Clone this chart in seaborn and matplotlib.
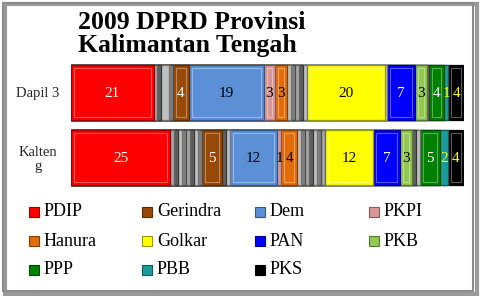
import numpy as np
import pandas as pd
import matplotlib
matplotlib.use("Agg")
import matplotlib.pyplot as plt
import matplotlib.colors as mcolors
from matplotlib.patches import Rectangle
import seaborn as sns

# ---------------- data ----------------
regions = ["Dapil 3", "Kalteng"]
region_labels = ["Dapil 3", "Kalten\ng"]

segments = ["PDIP", "o1", "o2", "o3", "o4", "o5", "o6", "o7", "o8",
            "Gerindra", "o9", "o10", "Dem", "PKPI", "Hanura",
            "o11", "o12", "o13", "o14", "o15", "o16", "o17",
            "Golkar", "o18", "PAN", "PKB", "o19", "o20", "PPP", "PBB", "PKS"]

dapil3 = [21, 1, 1, 2, 1, 0, 0, 0, 0,
          4, 0, 0, 19, 3, 3,
          1, 1, 1, 1, 1, 0, 0,
          20, 0.5, 7, 3, 0.5, 0, 4, 1, 4]
kalteng = [25, 1, 1, 1, 1, 1, 1, 1, 1,
           5, 1, 1, 12, 1, 4,
           1, 1, 1, 1, 1, 1, 1,
           12, 0, 7, 3, 1, 1, 5, 2, 4]

legend_parties = ["PDIP", "Gerindra", "Dem", "PKPI", "Hanura", "Golkar",
                  "PAN", "PKB", "PPP", "PBB", "PKS"]
party_colors = ["#ff0000", "#984807", "#5b8fd6", "#d99694", "#e36c09", "#ffff00",
                "#0000ff", "#92c850", "#008000", "#1a9a9a", "#000000"]
label_colors = ["white", "white", "black", "black", "black", "black",
                "white", "black", "white", "#ffff00", "#ffff00"]
gray_shades = ["#7f7f7f", "#a6a6a6", "#5f5f5f", "#bfbfbf"]

title = "2009 DPRD Provinsi\nKalimantan Tengah"

# ---------------- build table ----------------
rows = []
for reg, vals in zip(regions, [dapil3, kalteng]):
    tot = sum(vals)
    cum = 0.0
    for i, (seg, v) in enumerate(zip(segments, vals)):
        cum += v
        rows.append(dict(region=reg, segment=seg, value=v, idx=i,
                         cum=cum / tot * 100, share=v / tot * 100))
df = pd.DataFrame(rows)

def seg_color(seg, i):
    if seg in legend_parties:
        return party_colors[legend_parties.index(seg)]
    return gray_shades[i % len(gray_shades)]

def shade(col, f):
    c = np.array(mcolors.to_rgb(col))
    if f < 1:
        return tuple(c * f)
    return tuple(c + (1 - c) * (f - 1))

# ---------------- figure ----------------
sns.set_theme(style="white")
plt.rcParams["font.family"] = ["Liberation Serif", "DejaVu Serif"]

fig = plt.figure(figsize=(4.8, 2.96), dpi=100)
fig.patch.set_facecolor("white")
ax = fig.add_axes([71 / 480, 1 - 190 / 296, (464 - 71) / 480, 130 / 296])

BAR_W = 0.84
# stacked bars: draw cumulative totals from the right-most segment to the left
for i in reversed(range(len(segments))):
    seg = segments[i]
    sub = df[(df.idx == i) & (df.value > 0)]
    if sub.empty:
        continue
    col = seg_color(seg, i)
    sns.barplot(data=sub, x="cum", y="region", order=regions, color=col,
                orient="h", width=BAR_W, ax=ax, edgecolor=shade(col, 0.6),
                linewidth=0.9, saturation=1, errorbar=None)

# bevel highlight inside each visible segment
px_x = 100 / (464 - 71)          # data units per pixel (x)
px_y = 2.0 / 130                 # data units per pixel (y)
for _, r in df[df.value > 0].iterrows():
    w = r.share
    if w / px_x < 8:
        continue
    col = seg_color(r.segment, r.idx)
    y = regions.index(r.region)
    ins_x, ins_y = 3 * px_x, 3 * px_y
    ax.add_patch(Rectangle((r.cum - w + ins_x, y - BAR_W / 2 + ins_y),
                           w - 2 * ins_x, BAR_W - 2 * ins_y,
                           facecolor="none", edgecolor=shade(col, 1.35),
                           linewidth=0.8, zorder=3))

# value labels
for _, r in df[df.segment.isin(legend_parties) & (df.value > 0)].iterrows():
    k = legend_parties.index(r.segment)
    y = regions.index(r.region)
    ax.text(r.cum - r.share / 2, y + 0.02, f"{r.value:g}", ha="center",
            va="center", fontsize=11, color=label_colors[k], zorder=4)

ax.set_xlim(0, 100)
ax.set_ylim(1.5, -0.5)
ax.set_xlabel("")
ax.set_ylabel("")
ax.set_xticks([])
ax.set_yticks(range(len(regions)))
ax.set_yticklabels(region_labels, fontsize=10.5, ha="center", linespacing=1.1)
ax.tick_params(axis="y", length=0, pad=24)
for s in ax.spines.values():
    s.set_visible(False)

# title
fig.text(78 / 480, 1 - 11 / 296, title, ha="left", va="top", fontsize=18.5,
         fontweight="bold", linespacing=0.98, color="black")

# legend (row-major, 4 columns)
mark_x = [29, 142, 255, 369]
row_y = [212, 241, 270]
for k, (name, col) in enumerate(zip(legend_parties, party_colors)):
    rr, cc = divmod(k, 4)
    x0 = mark_x[cc]
    yc = row_y[rr]
    fig.add_artist(Rectangle((x0 / 480, 1 - (yc + 5) / 296), 10 / 480, 10 / 296,
                             transform=fig.transFigure, facecolor=col,
                             edgecolor=shade(col, 0.6), linewidth=0.8))
    fig.text((x0 + 15) / 480, 1 - yc / 296, name, ha="left", va="center",
             fontsize=13, color="black")

# frame with shadow
fig.add_artist(Rectangle((5 / 480, 2 / 296), 472 / 480, 290 / 296,
                         transform=fig.transFigure, facecolor="none",
                         edgecolor="#9a9a9a", linewidth=3.0, zorder=-1))
fig.add_artist(Rectangle((3 / 480, 5 / 296), 470 / 480, 288 / 296,
                         transform=fig.transFigure, facecolor="none",
                         edgecolor="#8c8c8c", linewidth=1.5))

fig.savefig("out.png", dpi=100)
